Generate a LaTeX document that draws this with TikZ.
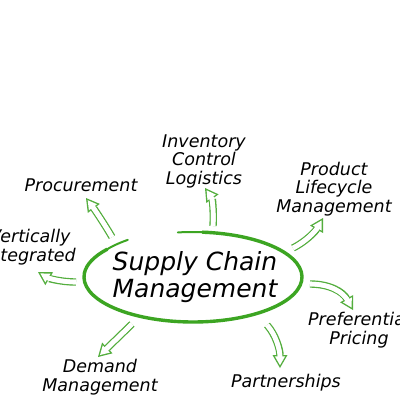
\documentclass[tikz,border=0pt]{standalone}
\usepackage{fontspec}
\setmainfont{DejaVu Sans}
\usetikzlibrary{arrows.meta}
\definecolor{ellgreen}{RGB}{60,165,34}
\definecolor{arrgreen}{RGB}{84,174,62}
\tikzset{
  lbl/.style={font=\itshape\fontsize{17.5}{18.5}\selectfont, align=center, inner sep=0pt},
  mainlbl/.style={font=\itshape\fontsize{25}{27.5}\selectfont, align=center, inner sep=0pt},
  arrout/.style={draw=arrgreen, line width=7.4pt, -{Triangle[length=13pt,width=15pt,line width=0pt]}},
  arrin/.style={draw=white, line width=4.6pt, shorten >=2.8pt, -{Triangle[length=8.8pt,width=10.15pt,line width=0pt]}},
  arrmid/.style={draw=white, line width=4.6pt, shorten >=10.6pt},
}
\newcommand{\hollowarrow}[1]{%
  \draw[arrout] #1;
  \draw[arrin] #1;
  \draw[arrmid] #1;
}
\begin{document}
\begin{tikzpicture}[x=1pt,y=-1pt]
\clip (0,0) rectangle (400,400);
\fill[white] (0,0) rectangle (400,400);

% central ellipse (hand-drawn, open at top-left)
\draw[ellgreen, line width=3.4pt, line cap=round] (193,277) ++(275:109 and 45) arc[start angle=275, end angle=578, x radius=109, y radius=45];
\draw[ellgreen, line width=2pt, line cap=round] (193,277) ++(262:109 and 45) arc[start angle=262, end angle=276, x radius=109, y radius=45];
\draw[ellgreen, line width=2pt, line cap=round] (193,277) ++(577:109 and 45) arc[start angle=577, end angle=593, x radius=111, y radius=51];

\node[mainlbl] (scm) at (195,277) {Supply Chain\\Management};

% labels
\node[lbl] (inv) at (204,161) {Inventory\\Control\\Logistics};
\node[lbl] (proc) at (81,185) {Procurement};
\node[lbl] (prod) at (334,189) {Product\\Lifecycle\\Management};
\node[lbl] (vert) at (30,247) {Vertically\\Integrated};
\node[lbl] (pref) at (359,330) {Preferential\\Pricing};
\node[lbl] (dem) at (100,377) {Demand\\Management};
\node[lbl] (part) at (286,383) {Partnerships};

% arrows
\coordinate (tv) at (76,282);
\coordinate (hv) at (38,272);
\coordinate (tp) at (112,237);
\coordinate (hp) at (86,198);
\coordinate (ti) at (213,226);
\coordinate (hi) at (205,188);
\coordinate (tl) at (293,248);
\coordinate (hl) at (323,218);
\coordinate (tf) at (310,284);
\coordinate (hf) at (353,310);
\coordinate (td) at (132,324);
\coordinate (hd) at (98,357);
\coordinate (ta) at (267,325);
\coordinate (ha) at (280,368);

\hollowarrow{(tv) .. controls (60,282) and (48,278) .. (hv)}
\hollowarrow{(tp) .. controls (105,225) and (95,210) .. (hp)}
\hollowarrow{(ti) .. controls (214,210) and (212,198) .. (hi)}
\hollowarrow{(tl) .. controls (305,242) and (315,232) .. (hl)}
\hollowarrow{(tf) .. controls (330,284) and (343,292) .. (hf)}
\hollowarrow{(td) -- (hd)}
\hollowarrow{(ta) .. controls (276,335) and (280,350) .. (ha)}
\end{tikzpicture}
\end{document}
